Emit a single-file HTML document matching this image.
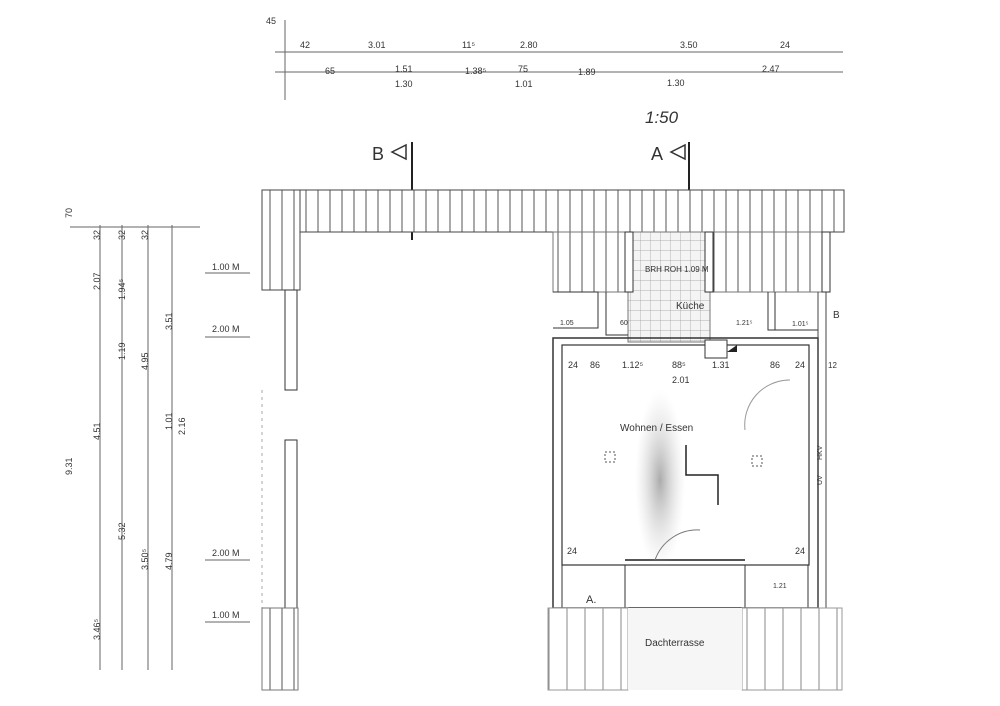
<!DOCTYPE html>
<html><head><meta charset="utf-8"><style>
body{margin:0;background:#fff;width:1000px;height:706px;overflow:hidden}
svg{display:block}
text{font-family:"Liberation Sans",sans-serif;fill:#333}
</style></head><body>
<svg width="1000" height="706" viewBox="0 0 1000 706" xmlns="http://www.w3.org/2000/svg">
<defs>
<pattern id="vh" width="12" height="10" patternUnits="userSpaceOnUse"><rect width="12" height="10" fill="#fff"/><line x1="6" y1="0" x2="6" y2="10" stroke="#555" stroke-width="1"/></pattern>
<pattern id="vh2" width="18" height="10" patternUnits="userSpaceOnUse"><rect width="18" height="10" fill="#fff"/><line x1="9" y1="0" x2="9" y2="10" stroke="#888" stroke-width="1"/></pattern>
<pattern id="grid" width="10" height="10" patternUnits="userSpaceOnUse"><rect width="10" height="10" fill="#f4f4f4"/><path d="M0 0H10M0 0V10" stroke="#999" stroke-width="0.7"/></pattern>
<radialGradient id="sm" cx="0.5" cy="0.5" r="0.5"><stop offset="0" stop-color="#888" stop-opacity="0.7"/><stop offset="1" stop-color="#ccc" stop-opacity="0"/></radialGradient>
</defs>
<g stroke="#666" stroke-width="1" fill="none">
<!-- top dims -->
<line x1="275" y1="52" x2="843" y2="52"/>
<line x1="275" y1="72" x2="843" y2="72"/>
<line x1="285" y1="20" x2="285" y2="100"/>
<!-- left dims -->
<line x1="100" y1="225" x2="100" y2="670"/>
<line x1="122" y1="225" x2="122" y2="670"/>
<line x1="148" y1="225" x2="148" y2="670"/>
<line x1="172" y1="225" x2="172" y2="670"/>
<line x1="70" y1="227" x2="200" y2="227"/>
<line x1="205" y1="273" x2="250" y2="273"/><line x1="205" y1="337" x2="250" y2="337"/>
<line x1="205" y1="560" x2="250" y2="560"/><line x1="205" y1="622" x2="250" y2="622"/>
</g>
<g font-size="9">
<text x="300" y="48">42</text><text x="368" y="48">3.01</text><text x="462" y="48">11⁵</text><text x="520" y="48">2.80</text><text x="680" y="48">3.50</text><text x="780" y="48">24</text>
<text x="325" y="74">65</text><text x="395" y="72">1.51</text><text x="395" y="87">1.30</text><text x="465" y="74">1.38⁵</text><text x="518" y="72">75</text><text x="515" y="87">1.01</text><text x="578" y="75">1.89</text><text x="667" y="86">1.30</text><text x="762" y="72">2.47</text><text x="266" y="24">45</text>
<text x="212" y="270">1.00 M</text><text x="212" y="332">2.00 M</text><text x="212" y="556">2.00 M</text><text x="212" y="618">1.00 M</text>
</g>
<g font-size="9" transform="">
<text transform="translate(100,290) rotate(-90)">2.07</text>
<text transform="translate(100,440) rotate(-90)">4.51</text>
<text transform="translate(125,540) rotate(-90)">5.32</text>
<text transform="translate(100,640) rotate(-90)">3.46⁵</text>
<text transform="translate(125,300) rotate(-90)">1.94⁵</text>
<text transform="translate(125,360) rotate(-90)">1.19</text>
<text transform="translate(148,370) rotate(-90)">4.95</text>
<text transform="translate(148,570) rotate(-90)">3.50⁵</text>
<text transform="translate(172,330) rotate(-90)">3.51</text>
<text transform="translate(172,430) rotate(-90)">1.01</text>
<text transform="translate(185,435) rotate(-90)">2.16</text>
<text transform="translate(172,570) rotate(-90)">4.79</text>
<text transform="translate(72,475) rotate(-90)">9.31</text>
<text transform="translate(72,218) rotate(-90)">70</text>
<text transform="translate(100,240) rotate(-90)">32</text><text transform="translate(125,240) rotate(-90)">32</text><text transform="translate(148,240) rotate(-90)">32</text>
</g>
<text x="645" y="123" font-size="17" fill="#999" style="font-style:italic">1:50</text>
<text x="372" y="160" font-size="18">B</text><path d="M392 152 L406 145 L406 159Z" fill="none" stroke="#333" stroke-width="1.5"/><line x1="412" y1="142" x2="412" y2="240" stroke="#222" stroke-width="2"/>
<text x="651" y="160" font-size="18">A</text><path d="M671 152 L685 145 L685 159Z" fill="none" stroke="#333" stroke-width="1.5"/><line x1="689" y1="142" x2="689" y2="270" stroke="#222" stroke-width="2"/>
<!-- roof hatching -->
<rect x="262" y="190" width="582" height="42" fill="url(#vh)" stroke="#444"/>
<rect x="262" y="190" width="38" height="100" fill="url(#vh)" stroke="#444"/>
<rect x="553" y="232" width="75" height="60" fill="url(#vh)" stroke="#777"/>
<rect x="710" y="232" width="120" height="60" fill="url(#vh)" stroke="#777"/>
<rect x="628" y="232" width="82" height="110" fill="url(#grid)" stroke="#777"/>
<rect x="625" y="232" width="8" height="60" fill="#fff" stroke="#333"/>
<rect x="705" y="232" width="8" height="60" fill="#fff" stroke="#333"/>
<rect x="822" y="232" width="8" height="60" fill="#fff" stroke="#333"/>
<text x="645" y="272" font-size="8">BRH ROH 1.09 M</text>
<text x="676" y="309" font-size="10">Küche</text>
<!-- side wings -->
<path d="M553 292H598V328H553" fill="none" stroke="#333"/>
<path d="M606 292V335H628" fill="none" stroke="#333"/>
<path d="M768 292V330H818M775 292V330" fill="none" stroke="#333"/>
<text x="560" y="325" font-size="7">1.05</text><text x="620" y="325" font-size="7">60</text><text x="736" y="325" font-size="7">1.21⁵</text><text x="792" y="326" font-size="7">1.01⁵</text>
<!-- main room -->
<rect x="553" y="338" width="265" height="270" fill="none" stroke="#333" stroke-width="1.5"/>
<rect x="562" y="345" width="247" height="220" fill="none" stroke="#333" stroke-width="1.2"/>
<rect x="562" y="565" width="63" height="43" fill="none" stroke="#333"/>
<rect x="745" y="565" width="63" height="43" fill="none" stroke="#333"/>
<line x1="625" y1="560" x2="745" y2="560" stroke="#555" stroke-width="2"/>
<rect x="705" y="340" width="22" height="18" fill="#fff" stroke="#333"/>
<path d="M727 352 L737 345 V352Z" fill="#222"/>
<ellipse cx="660" cy="480" rx="25" ry="90" fill="url(#sm)"/>
<path d="M655 560 A45 45 0 0 1 700 530" fill="none" stroke="#777"/>
<path d="M745 430 A45 45 0 0 1 790 380" fill="none" stroke="#999"/>
<path d="M686 445V475H718V505" fill="none" stroke="#222" stroke-width="1.5"/>
<rect x="605" y="452" width="10" height="10" fill="none" stroke="#555" stroke-dasharray="2,2"/>
<rect x="752" y="456" width="10" height="10" fill="none" stroke="#555" stroke-dasharray="2,2"/>
<g font-size="9"><text x="568" y="368">24</text><text x="590" y="368">86</text><text x="622" y="368">1.12⁵</text><text x="672" y="368">88⁵</text><text x="672" y="383">2.01</text><text x="712" y="368">1.31</text><text x="770" y="368">86</text><text x="795" y="368">24</text>
<text x="567" y="554">24</text><text x="795" y="554">24</text><text x="773" y="588" font-size="7">1.21</text>
<text x="586" y="603" font-size="11">A.</text></g>
<text x="620" y="431" font-size="10">Wohnen / Essen</text>
<!-- right strip -->
<line x1="818" y1="292" x2="818" y2="640" stroke="#444"/><line x1="826" y1="292" x2="826" y2="690" stroke="#444"/>
<text x="833" y="318" font-size="10">B</text><text x="828" y="368" font-size="8">12</text>
<text transform="translate(822,485) rotate(-90)" font-size="7">UV</text><text transform="translate(822,460) rotate(-90)" font-size="7">HKV</text>
<!-- left walls -->
<rect x="285" y="290" width="12" height="100" fill="none" stroke="#333"/>
<rect x="285" y="440" width="12" height="168" fill="none" stroke="#333"/>
<line x1="262" y1="390" x2="262" y2="608" stroke="#aaa" stroke-dasharray="3,4"/>
<!-- bottom hatching -->
<rect x="262" y="608" width="36" height="82" fill="url(#vh)" stroke="#777"/>
<rect x="548" y="608" width="80" height="82" fill="url(#vh2)" stroke="#999"/>
<rect x="742" y="608" width="100" height="82" fill="url(#vh2)" stroke="#999"/>
<rect x="628" y="608" width="114" height="82" fill="#f6f6f6"/>
<text x="645" y="646" font-size="10">Dachterrasse</text>
</svg>
</body></html>
